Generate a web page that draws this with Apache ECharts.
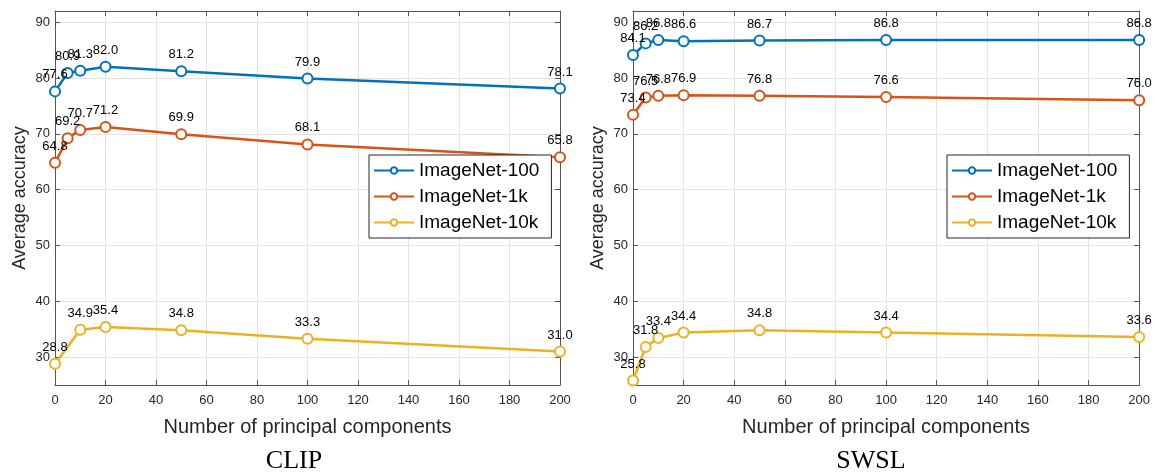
<!DOCTYPE html>
<html>
<head>
<meta charset="utf-8">
<script src="https://cdn.jsdelivr.net/npm/echarts@6/dist/echarts.min.js"></script>
<style>
  html, body { margin: 0; padding: 0; background: #fff; }
  #chart { width: 1153px; height: 476px; }
</style>
</head>
<body>
<div id="chart"></div>
<script>
// x positions (number of principal components)
var xFull = [0, 5, 10, 20, 50, 100, 200]
var xClip10k = [0, 10, 20, 50, 100, 200]

// CLIP
var clip100 = [77.6, 80.9, 81.3, 82.0, 81.2, 79.9, 78.1]
var clip1k = [64.8, 69.2, 70.7, 71.2, 69.9, 68.1, 65.8]
var clip10k = [28.8, 34.9, 35.4, 34.8, 33.3, 31.0]

// SWSL
var swsl100 = [84.1, 86.2, 86.8, 86.6, 86.7, 86.8, 86.8]
var swsl1k = [73.4, 76.5, 76.8, 76.9, 76.8, 76.6, 76.0]
var swsl10k = [25.8, 31.8, 33.4, 34.4, 34.8, 34.4, 33.6]

var legendNames = ['ImageNet-100', 'ImageNet-1k', 'ImageNet-10k']
var colorList = ['#0072BD', '#D95319', '#EDB120']
var panelTitles = ['CLIP', 'SWSL']

function pairs (xs, ys) {
  var out = []
  for (var i = 0; i < ys.length; i++) {
    out.push([xs[i], ys[i]])
  }
  return out
}

var font = 'Liberation Sans, Arial, sans-serif'
var axisColor = '#555555'
var textColor = '#262626'

function makeX (gridIndex, pos) {
  var main = pos === 'bottom'
  return {
    type: 'value',
    gridIndex: gridIndex,
    position: pos,
    min: 0,
    max: 200,
    interval: 20,
    name: main ? 'Number of principal components' : '',
    nameLocation: 'middle',
    nameGap: 32,
    nameTextStyle: { fontFamily: font, fontSize: 20, color: textColor },
    axisLine: { show: true, onZero: false, lineStyle: { color: axisColor, width: 1 } },
    axisTick: { show: true, inside: true, length: 5, lineStyle: { color: axisColor } },
    axisLabel: { show: main, fontFamily: font, fontSize: 13, color: textColor, margin: 9 },
    splitLine: { show: main, lineStyle: { color: '#e3e3e3', width: 1 } }
  }
}

function makeY (gridIndex, pos) {
  var main = pos === 'left'
  return {
    type: 'value',
    gridIndex: gridIndex,
    position: pos,
    min: 25,
    max: 92,
    name: main ? 'Average accuracy' : '',
    nameLocation: 'middle',
    nameGap: 26,
    nameTextStyle: { fontFamily: font, fontSize: 18, color: textColor },
    axisLine: { show: true, onZero: false, lineStyle: { color: axisColor, width: 1 } },
    axisTick: { show: true, inside: true, length: 5, lineStyle: { color: axisColor } },
    axisLabel: { show: main, showMinLabel: false, showMaxLabel: false, fontFamily: font, fontSize: 13, color: textColor, margin: 5 },
    splitLine: { show: main, lineStyle: { color: '#e3e3e3', width: 1 } }
  }
}

function makeSeries (name, data, idx, color) {
  return {
    name: name,
    type: 'line',
    xAxisIndex: idx * 2,
    yAxisIndex: idx * 2,
    data: data,
    symbol: 'emptyCircle',
    symbolSize: 10,
    lineStyle: { color: color, width: 2.5 },
    itemStyle: { color: color, borderColor: color, borderWidth: 2 },
    label: {
      show: true,
      position: 'top',
      distance: 4,
      fontFamily: font,
      fontSize: 13,
      color: '#000',
      formatter: function (p) { return p.value[1].toFixed(1) }
    },
    z: 3
  }
}

function makeLegend (left) {
  return {
    data: legendNames,
    orient: 'vertical',
    left: left,
    top: 155,
    itemGap: 7,
    itemWidth: 40,
    itemHeight: 8,
    padding: [6, 12, 6, 4],
    backgroundColor: '#ffffff',
    borderColor: '#262626',
    borderWidth: 1,
    borderRadius: 0,
    textStyle: { fontFamily: font, fontSize: 19, color: '#000' }
  }
}

var chart = echarts.init(document.getElementById('chart'))
var options = {
  animation: false,
  color: colorList,
  title: [
    { text: panelTitles[0], left: 289, top: 443, textAlign: 'center', textStyle: { fontFamily: 'Liberation Serif, serif', fontSize: 26, fontWeight: 'normal', color: '#000' } },
    { text: panelTitles[1], left: 866, top: 443, textAlign: 'center', textStyle: { fontFamily: 'Liberation Serif, serif', fontSize: 26, fontWeight: 'normal', color: '#000' } }
  ],
  legend: [makeLegend(369), makeLegend(947)],
  grid: [
    { left: 55, right: 593, top: 11, bottom: 91, show: false },
    { left: 633, right: 13, top: 11, bottom: 91, show: false }
  ],
  xAxis: [makeX(0, 'bottom'), makeX(0, 'top'), makeX(1, 'bottom'), makeX(1, 'top')],
  yAxis: [makeY(0, 'left'), makeY(0, 'right'), makeY(1, 'left'), makeY(1, 'right')],
  series: [
    makeSeries(legendNames[0], pairs(xFull, clip100), 0, colorList[0]),
    makeSeries(legendNames[1], pairs(xFull, clip1k), 0, colorList[1]),
    makeSeries(legendNames[2], pairs(xClip10k, clip10k), 0, colorList[2]),
    makeSeries(legendNames[0], pairs(xFull, swsl100), 1, colorList[0]),
    makeSeries(legendNames[1], pairs(xFull, swsl1k), 1, colorList[1]),
    makeSeries(legendNames[2], pairs(xFull, swsl10k), 1, colorList[2])
  ]
}
chart.setOption(options)
</script>
</body>
</html>
